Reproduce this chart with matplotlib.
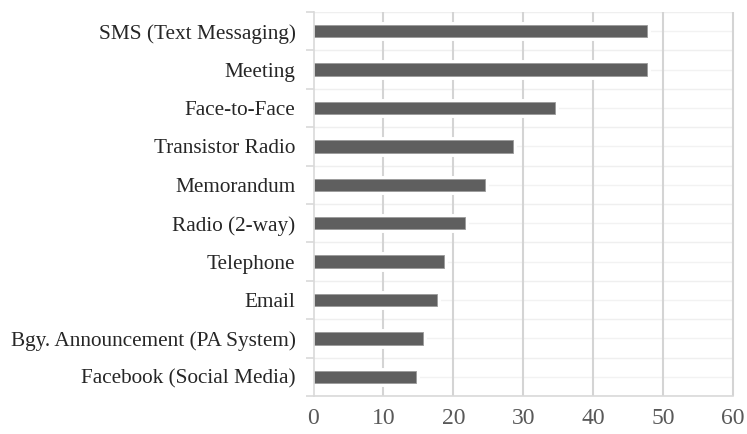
import numpy as np
import matplotlib.pyplot as plt

# channels, top to bottom as shown
channels = ['SMS (Text Messaging)', 'Meeting', 'Face-to-Face', 'Transistor Radio',
            'Memorandum', 'Radio (2-way)', 'Telephone', 'Email',
            'Bgy. Announcement (PA System)', 'Facebook (Social Media)']
values = [47.7, 47.7, 34.6, 28.6, 24.6, 21.7, 18.7, 17.6, 15.6, 14.7]
xticks = [0, 10, 20, 30, 40, 50, 60]

plt.rcParams['font.family'] = ['Liberation Serif', 'DejaVu Serif']

fig = plt.figure(figsize=(7.47, 4.34), dpi=100)
ax = fig.add_axes([313.5 / 747, 1 - 396 / 434, (733 - 313.5) / 747, (396 - 12) / 434])

n = len(channels)
y = np.arange(n)[::-1]

# light gridlines: category boundaries and centres
for b in np.arange(n + 1) - 0.5:
    ax.axhline(b, color='#efefef', lw=1.0, zorder=0)
for c in y:
    ax.axhline(c, color='#f2f2f2', lw=1.0, zorder=0)
ax.vlines(xticks[1:], -0.5, n - 0.5, colors='#d4d4d4', lw=1.5,
          zorder=0.5, clip_on=False)

# white halo behind bars, then the bars themselves
ax.barh(y, values, height=0.32, color='white', edgecolor='white', lw=5, zorder=1)
ax.barh(y, values, height=0.32, color='#5f5f5f', edgecolor='#9a9a9a', lw=0.6, zorder=2)

ax.set_xlim(0, 60)
ax.set_ylim(-0.5, n - 0.5)
ax.set_xticks(xticks)
ax.set_xticklabels([str(t) for t in xticks], fontsize=17, color='#595959')
ax.set_yticks(y)
ax.set_yticklabels(channels, fontsize=15.3, color='#262626')
ax.set_yticks(np.arange(n + 1) - 0.5, minor=True)

ax.tick_params(axis='x', length=0, pad=9)
ax.tick_params(axis='y', which='major', length=0, pad=13)
ax.tick_params(axis='y', which='minor', length=6, color='#d9d9d9', width=1.2)

for s in ['top', 'right']:
    ax.spines[s].set_visible(False)
for s in ['left', 'bottom']:
    ax.spines[s].set_color('#d9d9d9')
    ax.spines[s].set_linewidth(1.2)

fig.savefig('out.png', dpi=100)
